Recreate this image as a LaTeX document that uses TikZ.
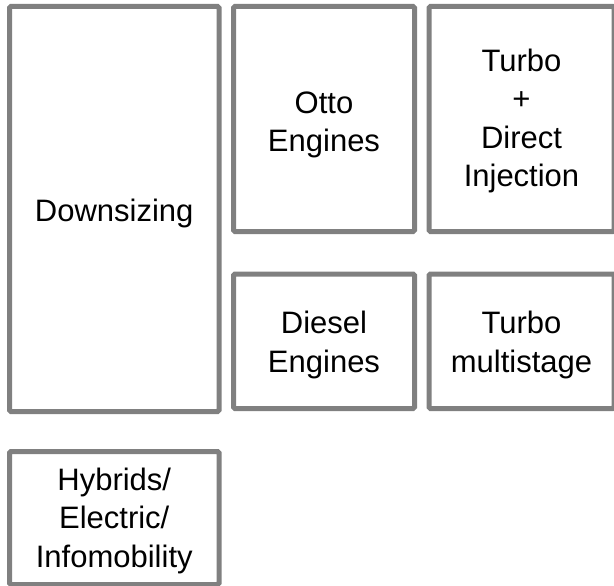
\documentclass[tikz,border=0pt]{standalone}
\usepackage{fontspec}
\setmainfont{Liberation Sans}
\begin{document}
\begin{tikzpicture}[x=1pt,y=-1pt,
  box/.style={draw=boxgray, line width=5pt, rounded corners=1.5pt, inner sep=0pt},
  txt/.style={inner sep=0pt, align=center, font=\fontsize{31}{38.5}\selectfont, text=black}]
\definecolor{boxgray}{RGB}{128,128,128}
\useasboundingbox (0,0) rectangle (614,586);
\node[box, minimum width=209.5pt, minimum height=405pt] (down) at (114.25,209) {};
\node[box, minimum width=181pt, minimum height=225pt] (otto) at (324,119) {};
\node[box, minimum width=185pt, minimum height=225pt] (tdi) at (521.5,119) {};
\node[box, minimum width=181pt, minimum height=134.5pt] (diesel) at (324,341.25) {};
\node[box, minimum width=185pt, minimum height=134.5pt] (tms) at (521.5,341.25) {};
\node[box, minimum width=209.5pt, minimum height=133pt] (hyb) at (114.25,518) {};
\node[txt] (downT) at ([yshift=-4pt]down.center) {Downsizing};
\node[txt] (ottoT) at ([yshift=-6pt]otto.center) {Otto\\Engines};
\node[txt] (tdiT) at ([yshift=-2pt]tdi.center) {Turbo\\+\\Direct\\Injection};
\node[txt] (dieselT) at ([yshift=-3.5pt]diesel.center) {Diesel\\Engines};
\node[txt] (tmsT) at ([yshift=-3.5pt]tms.center) {Turbo\\multistage};
\node[txt] (hybT) at ([yshift=-2.5pt]hyb.center) {Hybrids/\\Electric/\\Infomobility};
\end{tikzpicture}
\end{document}
